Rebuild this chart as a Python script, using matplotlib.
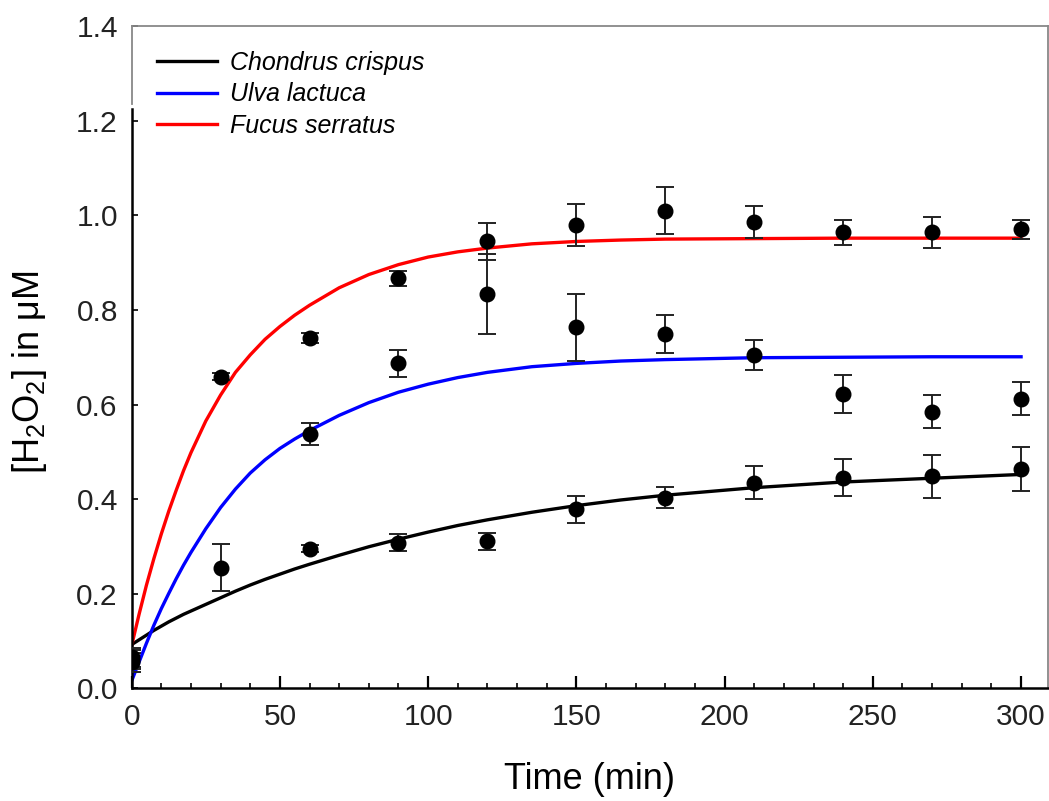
import matplotlib
matplotlib.use('Agg')
import matplotlib.pyplot as plt
from matplotlib.ticker import MultipleLocator, FormatStrFormatter

plt.rcParams['font.family'] = ['Liberation Sans', 'DejaVu Sans']
plt.rcParams['mathtext.fontset'] = 'custom'
plt.rcParams['mathtext.rm'] = 'Liberation Sans'
plt.rcParams['mathtext.it'] = 'Liberation Sans:italic'

# measured points (mean, error)
t_cc = [0, 30, 60, 90, 120, 150, 180, 210, 240, 270, 300]
y_cc = [0.06, 0.255, 0.295, 0.307, 0.311, 0.378, 0.403, 0.434, 0.445, 0.448, 0.463]
e_cc = [0.02, 0.05, 0.008, 0.018, 0.018, 0.028, 0.022, 0.035, 0.039, 0.046, 0.047]

t_ul = [0, 60, 90, 120, 150, 180, 210, 240, 270, 300]
y_ul = [0.055, 0.537, 0.687, 0.834, 0.763, 0.749, 0.705, 0.622, 0.585, 0.612]
e_ul = [0.02, 0.023, 0.029, 0.084, 0.07, 0.04, 0.031, 0.041, 0.035, 0.035]

t_fs = [0, 30, 60, 90, 120, 150, 180, 210, 240, 270, 300]
y_fs = [0.065, 0.659, 0.741, 0.867, 0.945, 0.980, 1.010, 0.987, 0.964, 0.964, 0.971]
e_fs = [0.02, 0.008, 0.01, 0.016, 0.04, 0.044, 0.05, 0.034, 0.027, 0.032, 0.02]

# fitted curves
t_fit = [0, 2.5, 5, 7.5, 10, 12.5, 15, 17.5, 20, 25, 30, 35, 40, 45, 50, 55, 60,
         70, 80, 90, 100, 110, 120, 135, 150, 165, 180, 210, 240, 270, 300]
fit_cc = [0.092, 0.102, 0.112, 0.122, 0.131, 0.140, 0.148, 0.156, 0.163, 0.177,
          0.191, 0.205, 0.218, 0.230, 0.241, 0.252, 0.262, 0.281, 0.299, 0.315,
          0.330, 0.344, 0.356, 0.372, 0.386, 0.398, 0.408, 0.424, 0.436, 0.444, 0.452]
fit_ul = [0.015, 0.055, 0.095, 0.133, 0.168, 0.200, 0.231, 0.260, 0.287, 0.337,
          0.382, 0.421, 0.455, 0.483, 0.507, 0.527, 0.545, 0.577, 0.604, 0.626,
          0.643, 0.657, 0.668, 0.680, 0.687, 0.692, 0.695, 0.699, 0.700, 0.701, 0.701]
fit_fs = [0.090, 0.156, 0.218, 0.274, 0.326, 0.374, 0.418, 0.460, 0.498, 0.565,
          0.620, 0.668, 0.705, 0.738, 0.765, 0.789, 0.810, 0.847, 0.875, 0.896,
          0.912, 0.923, 0.931, 0.940, 0.945, 0.948, 0.950, 0.951, 0.952, 0.952, 0.952]

names = ['Chondrus crispus', 'Ulva lactuca', 'Fucus serratus']
colors = ['black', '#0000ff', '#ff0000']

fig = plt.figure(figsize=(10.49, 8.01), dpi=100)
ax = fig.add_axes([0.1255, 0.141, 0.8733, 0.826])

for fit, c, n in zip([fit_cc, fit_ul, fit_fs], colors, names):
    ax.plot(t_fit, fit, color=c, lw=2.4, label=n, zorder=2)

for t, y, e in [(t_cc, y_cc, e_cc), (t_ul, y_ul, e_ul), (t_fs, y_fs, e_fs)]:
    ax.errorbar(t, y, yerr=e, fmt='o', color='black', ms=10.5, ecolor='#222222',
                elinewidth=1.4, capsize=6.5, capthick=1.4, zorder=3)

ax.set_xlim(0, 309)
ax.set_ylim(0, 1.4)
ax.xaxis.set_major_locator(MultipleLocator(50))
ax.xaxis.set_minor_locator(MultipleLocator(10))
ax.yaxis.set_major_locator(MultipleLocator(0.2))
ax.yaxis.set_major_formatter(FormatStrFormatter('%.1f'))

ax.tick_params(axis='x', which='major', direction='in', length=9, width=1.6,
               labelsize=21.5, pad=11, labelcolor='#222222')
ax.tick_params(axis='x', which='minor', direction='in', length=3.5, width=1.2)
ax.tick_params(axis='y', which='major', direction='in', length=4.5, width=1.2,
               labelsize=21.5, pad=10, labelcolor='#222222')
ax.tick_params(which='both', top=False, right=False)

for s in ['left', 'bottom']:
    ax.spines[s].set_linewidth(1.8)
    ax.spines[s].set_color('black')
for s in ['top', 'right']:
    ax.spines[s].set_linewidth(1.3)
    ax.spines[s].set_color('#888888')
# upper part of the left axis is drawn lighter in the original
ax.spines['left'].set_bounds(0, 1.225)
ax.axvline(0, ymin=1.235 / 1.4, ymax=1, color='#888888', lw=1.3, clip_on=False)

ax.set_xlabel('Time (min)', fontsize=26)
ax.set_ylabel('[H$_2$O$_2$] in μM', fontsize=26)
ax.xaxis.set_label_coords(0.5, -0.112)
ax.yaxis.set_label_coords(-0.09, 0.477)

leg = ax.legend(loc='upper left', bbox_to_anchor=(0.028, 0.963), frameon=False,
                prop={'style': 'italic', 'size': 18}, handlelength=2.4,
                handletextpad=0.5, labelspacing=0.3, borderpad=0,
                borderaxespad=0)

fig.savefig('out.png', dpi=100)
